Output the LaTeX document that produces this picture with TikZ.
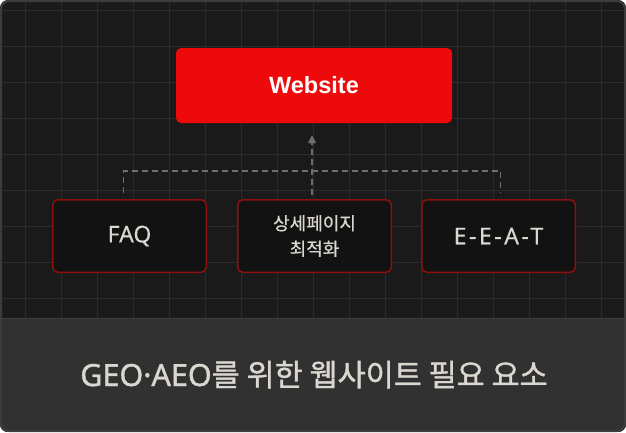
\documentclass[tikz,border=0pt]{standalone}
\usepackage{fontspec}
\setmainfont{Noto Sans CJK KR}
\newfontfamily\latinf{Noto Sans}[FakeBold=0.3]
\newfontfamily\latinspaced{Noto Sans}[FakeBold=0.3,LetterSpace=11]
\newfontfamily\latinbold{Liberation Sans}[UprightFont=* Bold]
\newfontfamily\latinmed{Noto Sans}[FakeBold=1.2]
\newfontfamily\krmed{Noto Sans CJK KR}[FakeBold=1.2]
\newfontfamily\krlight{Noto Sans CJK KR}[FakeBold=0.4]
\usetikzlibrary{arrows.meta}
\definecolor{bgdark}{RGB}{26,26,26}
\definecolor{gridc}{RGB}{43,43,43}
\definecolor{framec}{RGB}{60,60,60}
\definecolor{panelc}{RGB}{49,49,49}
\definecolor{webred}{RGB}{238,10,10}
\definecolor{boxfill}{RGB}{18,18,18}
\definecolor{boxedge}{RGB}{140,16,16}
\definecolor{txtc}{RGB}{218,214,208}
\definecolor{dashc}{RGB}{110,110,110}
\tikzset{
  webbox/.style={fill=webred, rounded corners=5pt, minimum width=276pt, minimum height=75pt, inner sep=0pt, text=white, font=\latinbold\fontsize{23.5}{27}\selectfont},
  itembox/.style={fill=boxfill, draw=boxedge, line width=1.5pt, rounded corners=5pt, minimum width=153.5pt, minimum height=72.5pt, inner sep=0pt, text=txtc, align=center},
  latinlabel/.style={font=\latinf\fontsize{23}{27}\selectfont},
  spacedlabel/.style={font=\latinspaced\fontsize{23}{27}\selectfont},
  conn/.style={draw=dashc, line width=1.5pt, dash pattern=on 6pt off 4pt},
  titletext/.style={text=txtc, font=\fontsize{30.5}{34}\selectfont, inner sep=0pt},
}
\begin{document}
\begin{tikzpicture}[x=1pt,y=-1pt]
\useasboundingbox (0,0) rectangle (626,432);
\fill[white] (0,0) rectangle (626,432);
% frame and background
\begin{scope}
\clip[rounded corners=8pt] (0,0) rectangle (626,432);
\fill[bgdark] (0,0) rectangle (626,432);
\foreach \gx in {25,61,...,601} \draw[gridc, line width=1pt] (\gx,0) -- (\gx,318);
\foreach \gy in {10.7,46.7,...,300} \draw[gridc, line width=1pt] (0,\gy) -- (626,\gy);
\fill[panelc] (0,318) rectangle (626,432);
\draw[framec, line width=1.5pt] (0,318.5) -- (626,318.5);
\end{scope}
\draw[framec, line width=2pt, rounded corners=8pt] (1,1) rectangle (625,431);
% nodes
\node[webbox] (web) at (314,85.5) {Website};
\node[itembox, latinlabel] (faq) at (129.5,236) {FAQ};
\node[itembox, font=\krlight\fontsize{18}{25.5}\selectfont] (mid) at (314.5,236) {상세페이지\\최적화};
\node[itembox, spacedlabel] (eeat) at (498.5,236) {E-E-A-T};
\coordinate (bus) at (0,171);
% connectors
\draw[conn] ([xshift=-5.8pt,yshift=6pt]faq.north) |- ([xshift=2.2pt]eeat.north |- bus) -- ([xshift=2.2pt,yshift=6pt]eeat.north);
\draw[conn, -{Triangle[width=8pt,length=8pt]}, shorten >=12pt, fill=dashc] ([xshift=-2.5pt,yshift=4pt]mid.north) -- ([xshift=-2.5pt]mid.north |- web.south);
% title
\node[titletext, anchor=base] (title) at (314,386) {{\latinmed GEO·AEO}{\krmed 를 위한 웹사이트 필요 요소}};
\end{tikzpicture}
\end{document}
